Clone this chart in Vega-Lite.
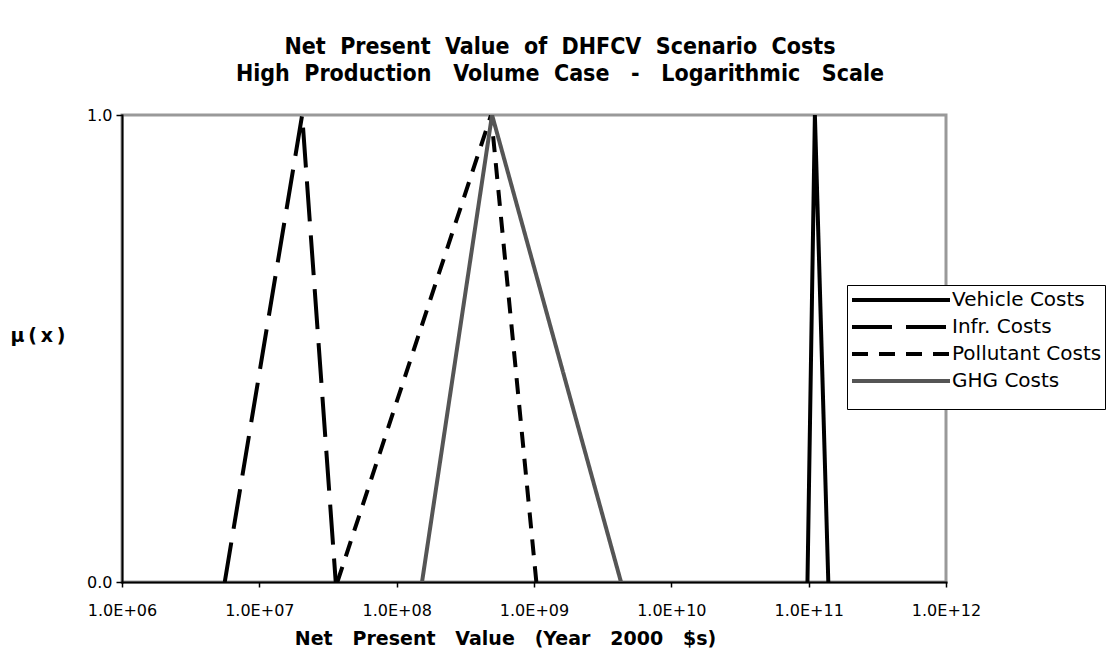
{
  "$schema": "https://vega.github.io/schema/vega-lite/v6.json",
  "width": 824,
  "height": 467,
  "autosize": "none",
  "padding": {"left": 122, "top": 115, "right": 169, "bottom": 86},
  "background": "white",
  "title": {
    "text": ["Net\u00a0\u00a0Present\u00a0\u00a0Value\u00a0\u00a0of\u00a0\u00a0DHFCV\u00a0\u00a0Scenario\u00a0\u00a0Costs", "High\u00a0\u00a0Production\u00a0\u00a0\u00a0Volume\u00a0\u00a0Case\u00a0\u00a0\u00a0-\u00a0\u00a0\u00a0Logarithmic\u00a0\u00a0\u00a0Scale"],
    "font": "DejaVu Sans Condensed, Liberation Sans, sans-serif",
    "fontSize": 23,
    "fontWeight": "bold",
    "lineHeight": 27,
    "color": "black",
    "anchor": "middle",
    "dx": 26,
    "offset": 21
  },
  "data": {
    "values": [
      {"series": "Vehicle Costs", "npv": 9.8e10, "mu": 0},
      {"series": "Vehicle Costs", "npv": 1.11e11, "mu": 1},
      {"series": "Vehicle Costs", "npv": 1.39e11, "mu": 0},
      {"series": "Infr. Costs", "npv": 5.6e6, "mu": 0},
      {"series": "Infr. Costs", "npv": 2.05e7, "mu": 1},
      {"series": "Infr. Costs", "npv": 3.6e7, "mu": 0},
      {"series": "Pollutant Costs", "npv": 3.7e7, "mu": 0},
      {"series": "Pollutant Costs", "npv": 4.87e8, "mu": 1},
      {"series": "Pollutant Costs", "npv": 1.04e9, "mu": 0},
      {"series": "GHG Costs", "npv": 1.53e8, "mu": 0},
      {"series": "GHG Costs", "npv": 4.95e8, "mu": 1},
      {"series": "GHG Costs", "npv": 4.3e9, "mu": 0}
    ]
  },
  "mark": {"type": "line", "strokeWidth": 4, "clip": true},
  "encoding": {
    "x": {
      "field": "npv",
      "type": "quantitative",
      "scale": {"type": "log", "domain": [1e6, 1e12], "nice": false},
      "axis": {
        "values": [1e6, 1e7, 1e8, 1e9, 1e10, 1e11, 1e12],
        "labelExpr": "'1.0E+' + (round(log(datum.value)/LN10) < 10 ? '0' : '') + round(log(datum.value)/LN10)",
        "title": "Net\u00a0\u00a0\u00a0Present\u00a0\u00a0\u00a0Value\u00a0\u00a0\u00a0(Year\u00a0\u00a0\u00a02000\u00a0\u00a0\u00a0$s)",
        "grid": false,
        "domainColor": "black",
        "domainWidth": 2,
        "tickColor": "black",
        "tickSize": 5,
        "tickWidth": 1.5,
        "labelFont": "DejaVu Sans, sans-serif",
        "labelFontSize": 16,
        "labelColor": "black",
        "labelPadding": 15,
        "labelFlush": false,
        "titleFont": "DejaVu Sans, sans-serif",
        "titleFontSize": 19,
        "titleFontWeight": "bold",
        "titleColor": "black",
        "titlePadding": 11,
        "titleX": 383,
        "titleAlign": "center"
      }
    },
    "y": {
      "field": "mu",
      "type": "quantitative",
      "scale": {"domain": [0, 1], "nice": false},
      "axis": {
        "values": [0, 1],
        "format": ".1f",
        "title": "μ\u2009(\u2009x\u2009)",
        "titleAngle": 0,
        "titleAlign": "left",
        "titleBaseline": "middle",
        "titleX": -112,
        "titleY": 220,
        "grid": false,
        "domainColor": "black",
        "domainWidth": 2,
        "tickColor": "black",
        "tickSize": 6,
        "tickWidth": 1.5,
        "labelFont": "DejaVu Sans, sans-serif",
        "labelFontSize": 16,
        "labelColor": "black",
        "labelPadding": 4,
        "labelFlush": false,
        "titleFont": "DejaVu Sans, sans-serif",
        "titleFontSize": 19,
        "titleFontWeight": "bold",
        "titleColor": "black"
      }
    },
    "color": {
      "field": "series",
      "type": "nominal",
      "sort": ["Vehicle Costs", "Infr. Costs", "Pollutant Costs", "GHG Costs"],
      "scale": {"domain": ["Vehicle Costs", "Infr. Costs", "Pollutant Costs", "GHG Costs"], "range": ["#000000", "#000000", "#000000", "#555555"]},
      "legend": {
        "title": "\u00a0",
        "titleOrient": "bottom",
        "titleFontSize": 9,
        "titlePadding": 6,
        "orient": "none",
        "legendX": 725,
        "legendY": 170,
        "strokeColor": "black",
        "padding": 3,
        "symbolType": "M-1,0H8.8",
        "symbolSize": 400,
        "symbolStrokeWidth": 4,
        "labelFont": "DejaVu Sans, sans-serif",
        "labelFontSize": 20,
        "labelColor": "black",
        "labelOffset": 78,
        "rowPadding": 5,
        "fillColor": "white"
      }
    },
    "strokeDash": {
      "field": "series",
      "type": "nominal",
      "sort": ["Vehicle Costs", "Infr. Costs", "Pollutant Costs", "GHG Costs"],
      "scale": {"domain": ["Vehicle Costs", "Infr. Costs", "Pollutant Costs", "GHG Costs"], "range": [[1, 0], [40, 14], [16, 11], [1, 0]]},
      "legend": {
        "title": "\u00a0",
        "orient": "none",
        "legendX": 725,
        "legendY": 170
      }
    },
    "order": {"field": "npv", "type": "quantitative"}
  },
  "config": {
    "view": {"stroke": "#999999", "strokeWidth": 3},
    "axis": {"domainCap": "square"}
  }
}
